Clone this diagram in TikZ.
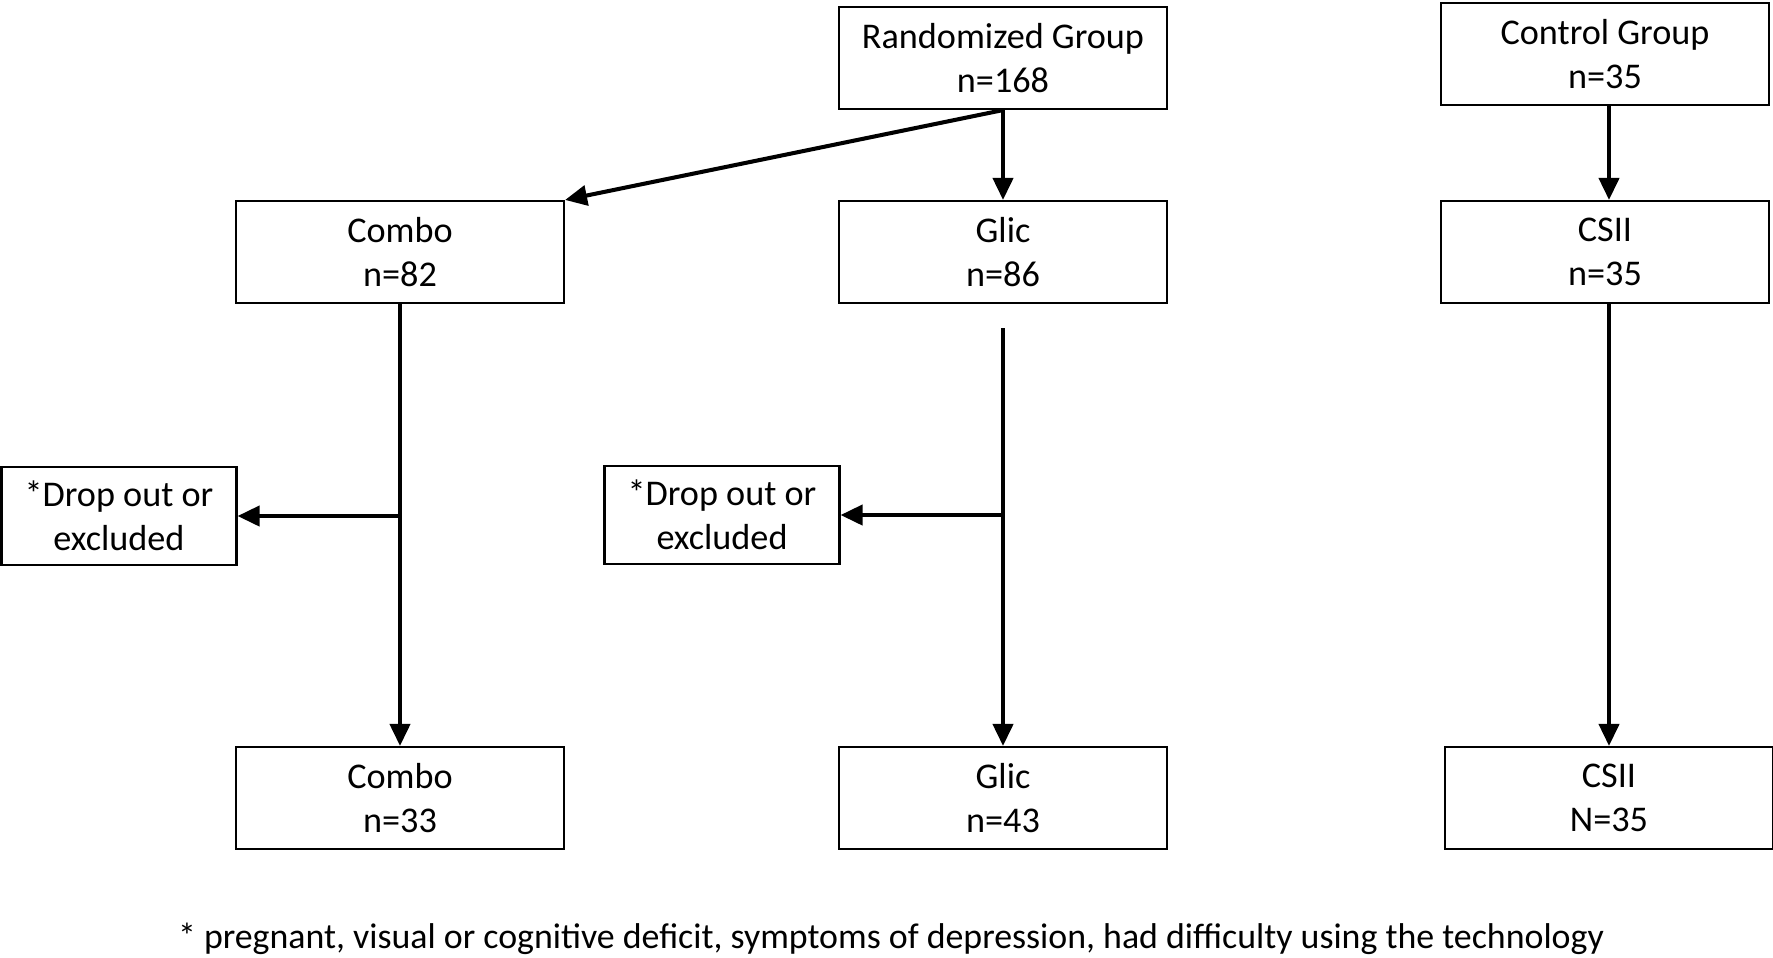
\documentclass[tikz,border=0pt]{standalone}
\usepackage{fontspec}
\setmainfont{Carlito}
\usepackage{tikz}
\usetikzlibrary{positioning, arrows.meta}
\tikzset{>={Triangle[length=2.2mm, width=2mm]}, node distance = 2cm}

\begin{document}
\begin{tikzpicture}[
    box/.style={draw, line width=0.6pt, minimum width=3.28cm, minimum height=1.02cm, align=center, inner sep=0pt, font=\fontsize{10.3}{12.4}\selectfont},
    dropbox/.style={box, minimum width=2.35cm, minimum height=0.98cm},
    flow/.style={->, line width=1.15pt}
]
    \useasboundingbox (0,0) rectangle (17.73,-9.57);

    \node[box] (rand) at (10.03,-0.58) {Randomized Group\\n=168};
    \node[box] (ctrl) at (16.05,-0.54) {Control Group\\n=35};

    \node[box] (combo) at (4.00,-2.52) {Combo\\n=82};
    \node[box] (glic) at (10.03,-2.52) {Glic\\n=86};
    \node[box] (csii) at (16.05,-2.52) {CSII\\n=35};

    \node[dropbox] (drop1) at (1.19,-5.16) {*Drop out or\\excluded};
    \node[dropbox] (drop2) at (7.22,-5.15) {*Drop out or\\excluded};

    \node[box] (combo2) at (4.00,-7.98) {Combo\\n=33};
    \node[box] (glic2) at (10.03,-7.98) {Glic\\n=43};
    \node[box] (csii2) at (16.09,-7.98) {CSII\\N=35};

    \node[font=\fontsize{10.2}{12.4}\selectfont] (note) at (8.91,-9.39)
        {* pregnant, visual or cognitive deficit, symptoms of depression, had difficulty using the technology};

    % connectors
    \coordinate (glictop) at (10.03,-3.28);
    \draw[flow] (rand.south) -- (combo.north east);
    \draw[flow] (rand.south) -- (glic.north);
    \draw[flow] (ctrl.south -| csii2.north) -- (csii.north -| csii2.north);
    \draw[flow] (combo.south) -- (combo2.north);
    \draw[flow] (combo.south |- drop1.east) -- (drop1.east);
    \draw[flow] (glictop) -- (glic2.north);
    \draw[flow] (glictop |- drop2.east) -- (drop2.east);
    \draw[flow] (csii.south -| csii2.north) -- (csii2.north);
\end{tikzpicture}
\end{document}
